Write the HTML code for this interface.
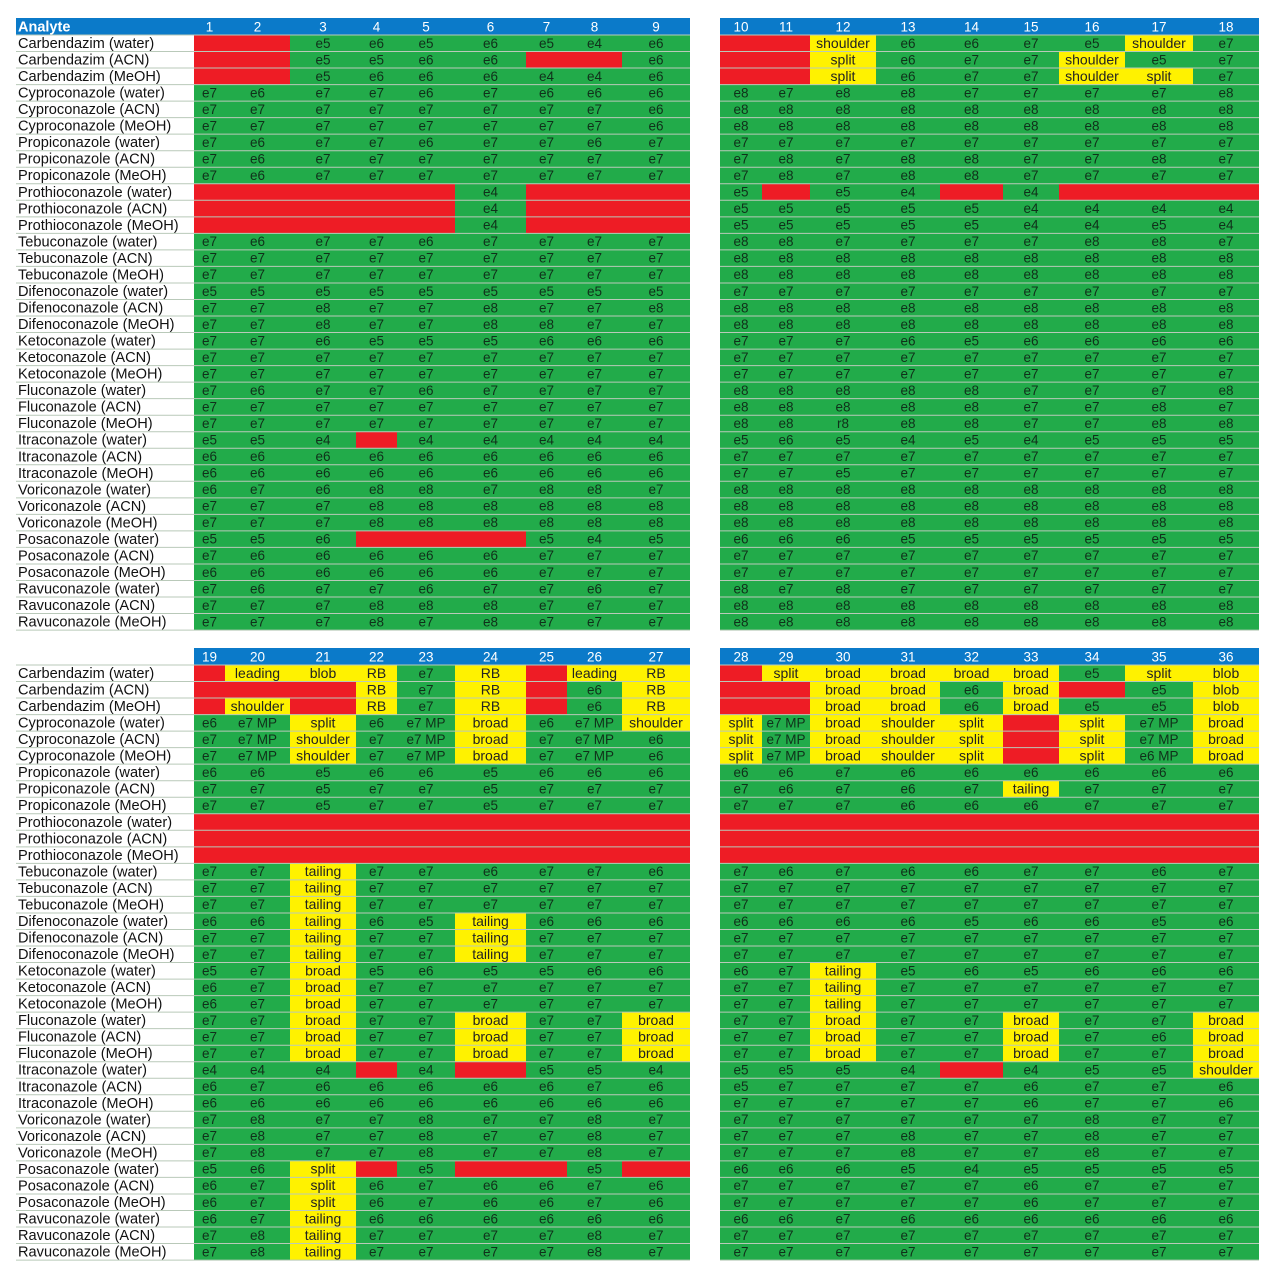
<!DOCTYPE html>
<html><head><meta charset="utf-8"><style>
html,body{margin:0;padding:0;background:#fff;}
svg{display:block;}
text{font-family:"Liberation Sans",sans-serif;}
</style></head><body>
<svg id="chart" width="1275" height="1280" viewBox="0 0 1275 1280" xmlns="http://www.w3.org/2000/svg"></svg>
<script>
const analytes = ["Carbendazim (water)","Carbendazim (ACN)","Carbendazim (MeOH)","Cyproconazole (water)","Cyproconazole (ACN)","Cyproconazole (MeOH)","Propiconazole (water)","Propiconazole (ACN)","Propiconazole (MeOH)","Prothioconazole (water)","Prothioconazole (ACN)","Prothioconazole (MeOH)","Tebuconazole (water)","Tebuconazole (ACN)","Tebuconazole (MeOH)","Difenoconazole (water)","Difenoconazole (ACN)","Difenoconazole (MeOH)","Ketoconazole (water)","Ketoconazole (ACN)","Ketoconazole (MeOH)","Fluconazole (water)","Fluconazole (ACN)","Fluconazole (MeOH)","Itraconazole (water)","Itraconazole (ACN)","Itraconazole (MeOH)","Voriconazole (water)","Voriconazole (ACN)","Voriconazole (MeOH)","Posaconazole (water)","Posaconazole (ACN)","Posaconazole (MeOH)","Ravuconazole (water)","Ravuconazole (ACN)","Ravuconazole (MeOH)"];
const colsTL = ["1","2","3","4","5","6","7","8","9"];
const colsTR = ["10","11","12","13","14","15","16","17","18"];
const colsBL = ["19","20","21","22","23","24","25","26","27"];
const colsBR = ["28","29","30","31","32","33","34","35","36"];
const dataTL = [
"R R e5 e6 e5 e6 e5 e4 e6","R R e5 e5 e6 e6 R R e6","R R e5 e6 e6 e6 e4 e4 e6",
"e7 e6 e7 e7 e6 e7 e6 e6 e6","e7 e7 e7 e7 e7 e7 e7 e7 e6","e7 e7 e7 e7 e7 e7 e7 e7 e6",
"e7 e6 e7 e7 e6 e7 e7 e6 e7","e7 e6 e7 e7 e7 e7 e7 e7 e7","e7 e6 e7 e7 e7 e7 e7 e7 e7",
"R R R R R e4 R R R","R R R R R e4 R R R","R R R R R e4 R R R",
"e7 e6 e7 e7 e6 e7 e7 e7 e7","e7 e7 e7 e7 e7 e7 e7 e7 e7","e7 e7 e7 e7 e7 e7 e7 e7 e7",
"e5 e5 e5 e5 e5 e5 e5 e5 e5","e7 e7 e8 e7 e7 e8 e7 e7 e8","e7 e7 e8 e7 e7 e8 e8 e7 e7",
"e7 e7 e6 e5 e5 e5 e6 e6 e6","e7 e7 e7 e7 e7 e7 e7 e7 e7","e7 e7 e7 e7 e7 e7 e7 e7 e7",
"e7 e6 e7 e7 e6 e7 e7 e7 e7","e7 e7 e7 e7 e7 e7 e7 e7 e7","e7 e7 e7 e7 e7 e7 e7 e7 e7",
"e5 e5 e4 R e4 e4 e4 e4 e4","e6 e6 e6 e6 e6 e6 e6 e6 e6","e6 e6 e6 e6 e6 e6 e6 e6 e6",
"e6 e7 e6 e8 e8 e7 e8 e8 e7","e7 e7 e7 e8 e8 e8 e8 e8 e8","e7 e7 e7 e8 e8 e8 e8 e8 e8",
"e5 e5 e6 R R R e5 e4 e5","e7 e6 e6 e6 e6 e6 e7 e7 e7","e6 e6 e6 e6 e6 e6 e7 e7 e7",
"e7 e6 e7 e7 e6 e7 e7 e6 e7","e7 e7 e7 e8 e8 e8 e7 e7 e7","e7 e7 e7 e8 e7 e8 e7 e7 e7"];
const dataTR = [
"R R shoulder e6 e6 e7 e5 shoulder e7","R R split e6 e7 e7 shoulder e5 e7","R R split e6 e7 e7 shoulder split e7",
"e8 e7 e8 e8 e7 e7 e7 e7 e8","e8 e8 e8 e8 e8 e8 e8 e8 e8","e8 e8 e8 e8 e8 e8 e8 e8 e8",
"e7 e7 e7 e7 e7 e7 e7 e7 e7","e7 e8 e7 e8 e8 e7 e7 e8 e7","e7 e8 e7 e8 e8 e7 e7 e7 e7",
"e5 R e5 e4 R e4 R R R","e5 e5 e5 e5 e5 e4 e4 e4 e4","e5 e5 e5 e5 e5 e4 e4 e5 e4",
"e8 e8 e7 e7 e7 e7 e8 e8 e7","e8 e8 e8 e8 e8 e8 e8 e8 e8","e8 e8 e8 e8 e8 e8 e8 e8 e8",
"e7 e7 e7 e7 e7 e7 e7 e7 e7","e8 e8 e8 e8 e8 e8 e8 e8 e8","e8 e8 e8 e8 e8 e8 e8 e8 e8",
"e7 e7 e7 e6 e5 e6 e6 e6 e6","e7 e7 e7 e7 e7 e7 e7 e7 e7","e7 e7 e7 e7 e7 e7 e7 e7 e7",
"e8 e8 e8 e8 e8 e7 e7 e7 e8","e8 e8 e8 e8 e8 e7 e7 e8 e7","e8 e8 r8 e8 e8 e7 e7 e8 e8",
"e5 e6 e5 e4 e5 e4 e5 e5 e5","e7 e7 e7 e7 e7 e7 e7 e7 e7","e7 e7 e5 e7 e7 e7 e7 e7 e7",
"e8 e8 e8 e8 e8 e8 e8 e8 e8","e8 e8 e8 e8 e8 e8 e8 e8 e8","e8 e8 e8 e8 e8 e8 e8 e8 e8",
"e6 e6 e6 e5 e5 e5 e5 e5 e5","e7 e7 e7 e7 e7 e7 e7 e7 e7","e7 e7 e7 e7 e7 e7 e7 e7 e7",
"e8 e7 e8 e7 e7 e7 e7 e7 e7","e8 e8 e8 e8 e8 e8 e8 e8 e8","e8 e8 e8 e8 e8 e8 e8 e8 e8"];
const dataBL = [
"R leading blob RB e7 RB R leading RB","R R R RB e7 RB R e6 RB","R shoulder R RB e7 RB R e6 RB",
"e6 e7_MP split e6 e7_MP broad e6 e7_MP shoulder","e7 e7_MP shoulder e7 e7_MP broad e7 e7_MP e6","e7 e7_MP shoulder e7 e7_MP broad e7 e7_MP e6",
"e6 e6 e5 e6 e6 e5 e6 e6 e6","e7 e7 e5 e7 e7 e5 e7 e7 e7","e7 e7 e5 e7 e7 e5 e7 e7 e7",
"R R R R R R R R R","R R R R R R R R R","R R R R R R R R R",
"e7 e7 tailing e7 e7 e6 e7 e7 e6","e7 e7 tailing e7 e7 e7 e7 e7 e7","e7 e7 tailing e7 e7 e7 e7 e7 e7",
"e6 e6 tailing e6 e5 tailing e6 e6 e6","e7 e7 tailing e7 e7 tailing e7 e7 e7","e7 e7 tailing e7 e7 tailing e7 e7 e7",
"e5 e7 broad e5 e6 e5 e5 e6 e6","e6 e7 broad e7 e7 e7 e7 e7 e7","e6 e7 broad e7 e7 e7 e7 e7 e7",
"e7 e7 broad e7 e7 broad e7 e7 broad","e7 e7 broad e7 e7 broad e7 e7 broad","e7 e7 broad e7 e7 broad e7 e7 broad",
"e4 e4 e4 R e4 R e5 e5 e4","e6 e7 e6 e6 e6 e6 e6 e7 e6","e6 e6 e6 e6 e6 e6 e6 e6 e6",
"e7 e8 e7 e7 e8 e7 e7 e8 e7","e7 e8 e7 e7 e8 e7 e7 e8 e7","e7 e8 e7 e7 e8 e7 e7 e8 e7",
"e5 e6 split R e5 R R e5 R","e6 e7 split e6 e7 e6 e6 e7 e6","e6 e7 split e6 e7 e6 e6 e7 e6",
"e6 e7 tailing e6 e6 e6 e6 e6 e6","e7 e8 tailing e7 e7 e7 e7 e8 e7","e7 e8 tailing e7 e7 e7 e7 e8 e7"];
const dataBR = [
"R split broad broad broad broad e5 split blob","R R broad broad e6 broad R e5 blob","R R broad broad e6 broad e5 e5 blob",
"split e7_MP broad shoulder split R split e7_MP broad","split e7_MP broad shoulder split R split e7_MP broad","split e7_MP broad shoulder split R split e6_MP broad",
"e6 e6 e7 e6 e6 e6 e6 e6 e6","e7 e6 e7 e6 e7 tailing e7 e7 e7","e7 e7 e7 e6 e6 e6 e7 e7 e7",
"R R R R R R R R R","R R R R R R R R R","R R R R R R R R R",
"e7 e6 e7 e6 e6 e7 e7 e6 e7","e7 e7 e7 e7 e7 e7 e7 e7 e7","e7 e7 e7 e7 e7 e7 e7 e7 e7",
"e6 e6 e6 e6 e5 e6 e6 e5 e6","e7 e7 e7 e7 e7 e7 e7 e7 e7","e7 e7 e7 e7 e7 e7 e7 e7 e7",
"e6 e7 tailing e5 e6 e5 e6 e6 e6","e7 e7 tailing e7 e7 e7 e7 e7 e7","e7 e7 tailing e7 e7 e7 e7 e7 e7",
"e7 e7 broad e7 e7 broad e7 e7 broad","e7 e7 broad e7 e7 broad e7 e6 broad","e7 e7 broad e7 e7 broad e7 e7 broad",
"e5 e5 e5 e4 R e4 e5 e5 shoulder","e5 e7 e7 e7 e7 e6 e7 e7 e6","e7 e7 e7 e7 e7 e6 e7 e7 e6",
"e7 e7 e7 e7 e7 e7 e8 e7 e7","e7 e7 e7 e8 e7 e7 e8 e7 e7","e7 e7 e7 e8 e7 e7 e8 e7 e7",
"e6 e6 e6 e5 e4 e5 e5 e5 e5","e7 e7 e7 e7 e7 e6 e7 e7 e7","e7 e7 e7 e7 e7 e6 e7 e7 e7",
"e6 e6 e7 e6 e6 e6 e6 e6 e6","e7 e7 e7 e7 e7 e7 e7 e7 e7","e7 e7 e7 e7 e7 e7 e7 e7 e7"];

const NS="http://www.w3.org/2000/svg";
const svg=document.getElementById('chart');
const GREEN="#22ab4a",RED="#ee1c25",YEL="#fff200",BLUE="#0b7ac9",LINE="#b9c9b9";
const edgesL=[194,225,290,356,397,455,526,567,622,690];
const edgesR=[720,762,810,876,940,1003,1059,1125,1193,1259];
const ROWH=16.53;
function mk(tag,attrs,parent){const e=document.createElementNS(NS,tag);for(const k in attrs)e.setAttribute(k,attrs[k]);(parent||svg).appendChild(e);return e;}
function panel(name,cols,data,edges,top,withLabels,analyteHdr){
  const g=mk('g',{});
  
  
  const hx=analyteHdr?16:edges[0];
  const hdr=mk('rect',{x:hx,y:top,width:edges[9]-hx,height:17,fill:BLUE},g);
  
  
  if(analyteHdr){const t=mk('text',{x:18,y:top+13.5,'font-size':14.5,'font-weight':'bold',fill:'#fff'},g);t.textContent='Analyte';
    
    }
  cols.forEach((c,i)=>{const t=mk('text',{x:(edges[i]+edges[i+1])/2,y:top+13.5,'font-size':13.5,fill:'#fff','text-anchor':'middle'},g);t.textContent=c;
    
    });
  const y0=top+17;
  data.forEach((row,r)=>{
    const y=y0+r*ROWH;
    const cells=row.split(' ');
    if(withLabels){const t=mk('text',{x:18,y:y+13,'font-size':14.6,fill:'#111'},g);t.textContent=analytes[r];
      
      }
    cells.forEach((v,i)=>{
      const txt=v.replace('_',' ');
      const isRed=v==='R';
      const isVal=/^[er]\d( MP)?$/.test(txt);
      const fill=isRed?RED:(isVal?GREEN:YEL);
      const rc=mk('rect',{x:edges[i],y:y,width:edges[i+1]-edges[i],height:ROWH+0.3,fill:fill},g);
      
      
      if(!isRed){const t=mk('text',{x:(edges[i]+edges[i+1])/2,y:y+12.8,'font-size':isVal?13.5:14,fill:isVal?'#10301a':'#222','text-anchor':'middle'},g);t.textContent=txt;
        
        }
    });
  });
  for(let r=0;r<=data.length;r++){
    const y=y0+r*ROWH;
    const l=mk('line',{x1:withLabels?16:edges[0],x2:edges[9],y1:y,y2:y,stroke:LINE,'stroke-width':1},g);
    
    
  }
}
panel('panel-columns-1-9',colsTL,dataTL,edgesL,18,true,true);
panel('panel-columns-10-18',colsTR,dataTR,edgesR,18,false,false);
panel('panel-columns-19-27',colsBL,dataBL,edgesL,648,true,false);
panel('panel-columns-28-36',colsBR,dataBR,edgesR,648,false,false);
</script>
</body></html>
